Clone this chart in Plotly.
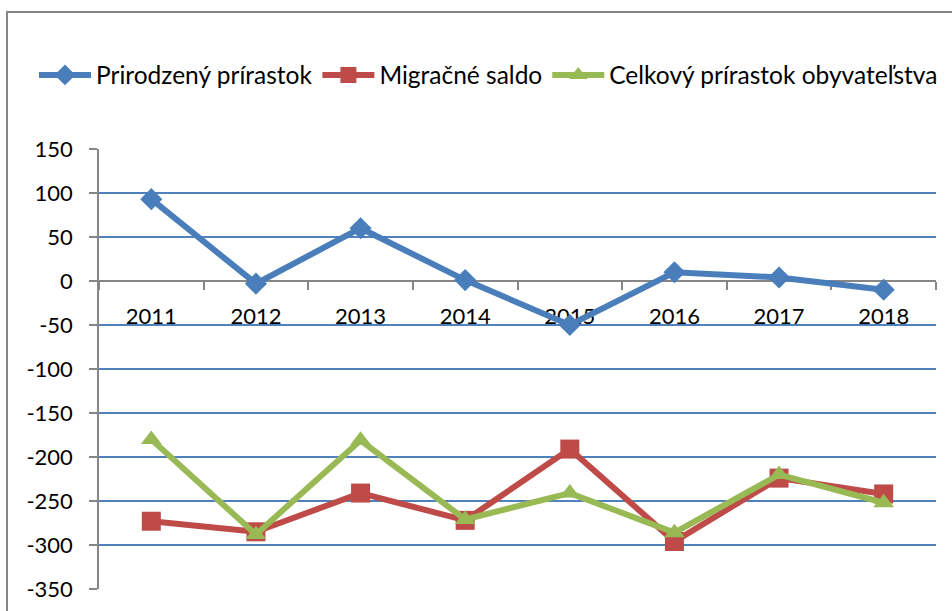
import plotly.graph_objects as go

years = ["2011", "2012", "2013", "2014", "2015", "2016", "2017", "2018"]
prirodzeny = [93, -3, 60, 1, -50, 10, 4, -10]
migracne = [-273, -285, -241, -272, -191, -296, -224, -242]
celkovy = [-180, -288, -181, -271, -241, -286, -220, -252]
y_ticks = [-350, -300, -250, -200, -150, -100, -50, 0, 50, 100, 150]
y_tick_labels = ["-350", "-300", "-250", "-200", "-150", "-100", "-50", "0", "50", "100", "150"]

names = ["Prirodzený prírastok", "Migračné saldo", "Celkový prírastok obyvateľstva"]
colors = ["#4A7EBB", "#BE4B48", "#98B954"]
symbols = ["diamond", "square", "triangle-up"]
msizes = [17, 19, 18]

W, H = 952, 611
L, R, T, B = 99, 16, 149, 22
pw, ph = W - L - R, H - T - B

def px_x(p):
    return (p - L) / pw

def px_y(p):
    return (H - B - p) / ph

fig = go.Figure()
for ys, n, c, s, ms in zip([prirodzeny, migracne, celkovy], names, colors, symbols, msizes):
    fig.add_trace(go.Scatter(
        x=years, y=ys, name=n, mode="lines+markers",
        line=dict(color=c, width=6),
        marker=dict(symbol=s, size=ms, color=c),
    ))

ymin, ymax = -350, 150
fig.update_layout(
    width=W, height=H,
    margin=dict(l=L, r=R, t=T, b=B, autoexpand=False),
    paper_bgcolor="white", plot_bgcolor="white",
    font=dict(family="Lato, Open Sans, sans-serif", color="#000000", size=22),
    showlegend=True,
    legend=dict(orientation="h", x=px_x(34), xanchor="left", y=px_y(75), yanchor="middle",
                font=dict(size=24.5), itemwidth=52, tracegroupgap=0,
                bgcolor="rgba(0,0,0,0)"),
    xaxis=dict(type="category", anchor="free", position=(0 - ymin) / (ymax - ymin),
               range=[-0.5, 7.5], showline=True, linecolor="#868686", linewidth=1.5,
               ticks="outside", tickson="boundaries", ticklen=8, tickcolor="#868686",
               tickwidth=1.5, showgrid=False, ticklabelstandoff=16, automargin=False,
               tickfont=dict(size=22), layer="below traces"),
    yaxis=dict(range=[ymin, ymax], tickmode="array", tickvals=y_ticks, ticktext=y_tick_labels,
               showline=True, linecolor="#868686", linewidth=1.5,
               ticks="outside", ticklen=8, tickcolor="#868686", tickwidth=1.5,
               gridcolor="#4F81BD", gridwidth=1.5, zeroline=False, automargin=False,
               ticklabelstandoff=12, tickfont=dict(size=22), layer="below traces"),
    shapes=[dict(type="rect", xref="paper", yref="paper",
                 x0=px_x(7), x1=px_x(980), y0=px_y(640), y1=px_y(12),
                 line=dict(color="#868686", width=2), layer="below")],
)

fig.write_html("out.html", config={"displayModeBar": False},
               post_script="document.body.style.margin='0';document.body.style.overflow='hidden';")
